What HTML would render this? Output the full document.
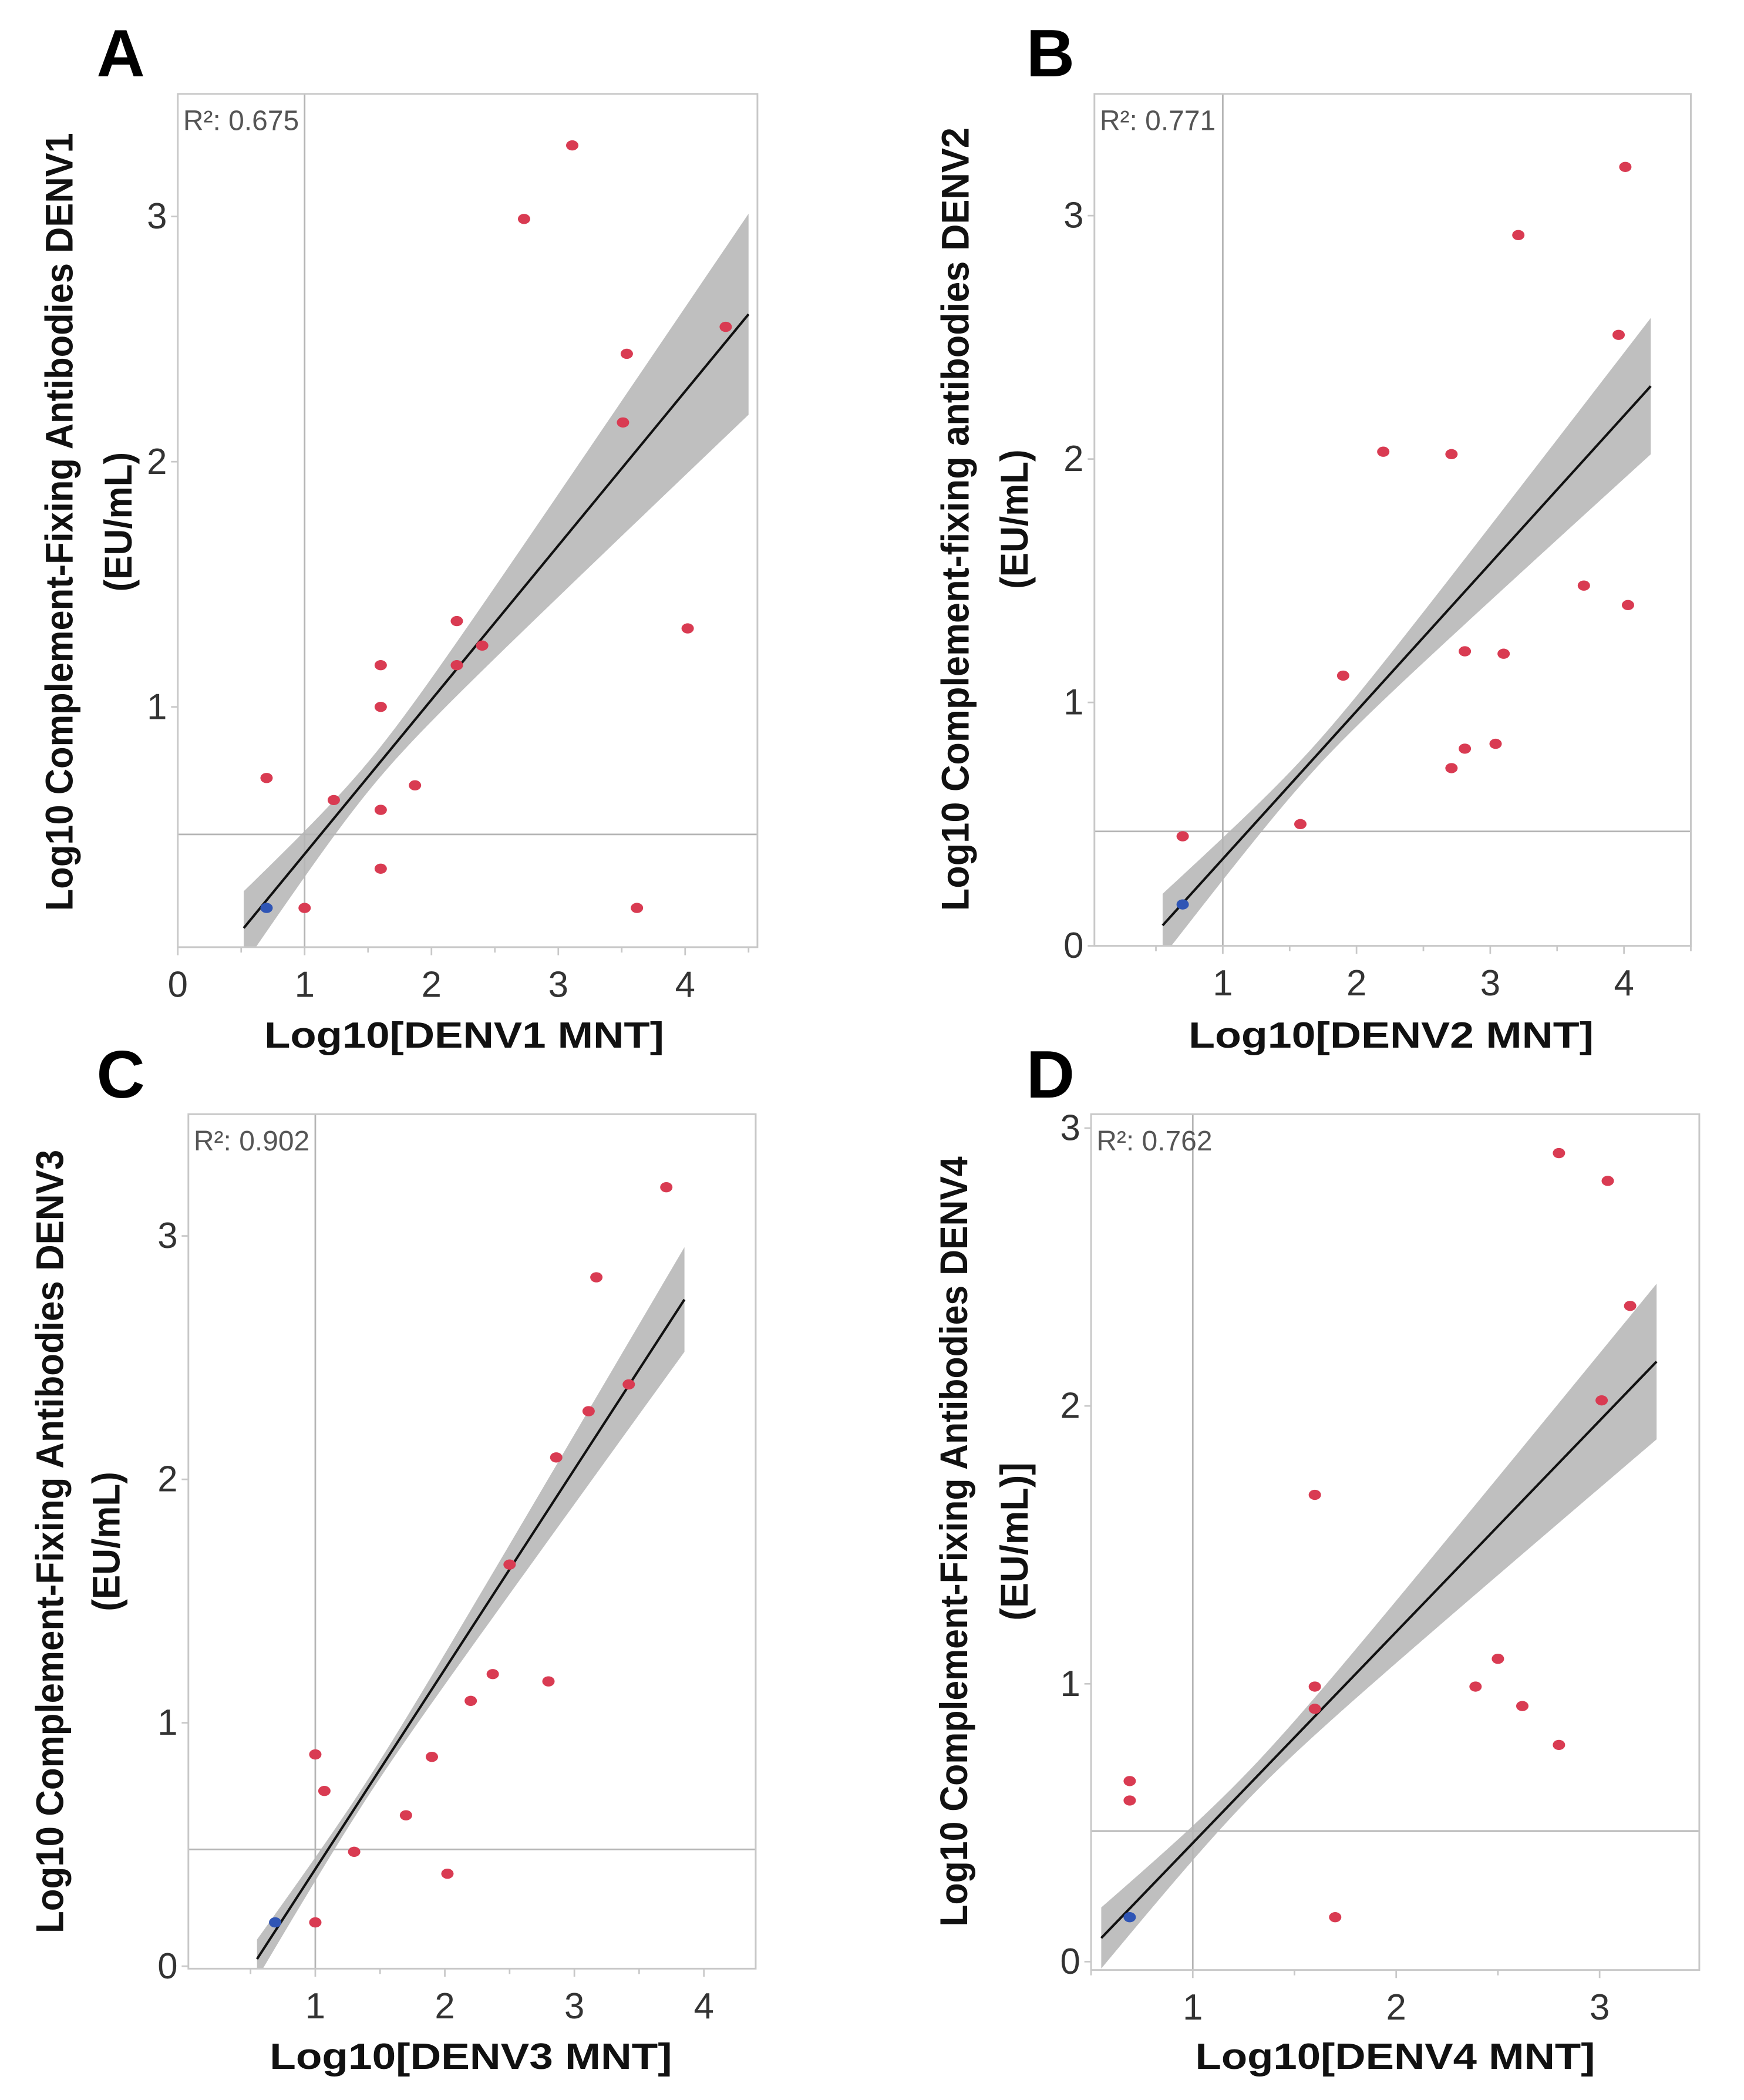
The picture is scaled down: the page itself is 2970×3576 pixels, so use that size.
<!DOCTYPE html>
<html><head><meta charset="utf-8"><style>
html,body{margin:0;padding:0;background:#fff;}
svg{display:block;}
</style></head><body>
<svg id="fig" xmlns="http://www.w3.org/2000/svg" width="2970" height="3576" viewBox="0 0 1300 1565.3" font-family="'Liberation Sans', sans-serif">
<rect width="1300" height="1565.3" fill="#fff"/>
</svg>
<script>
// ---- data (top level) ----
const panelLetters = ["A","B","C","D"];
const r2Labels = ["R²: 0.675","R²: 0.771","R²: 0.902","R²: 0.762"];
const xTitles = ["Log10[DENV1 MNT]","Log10[DENV2 MNT]","Log10[DENV3 MNT]","Log10[DENV4 MNT]"];
const yTitles = ["Log10 Complement-Fixing Antibodies DENV1","Log10 Complement-fixing antibodies DENV2","Log10 Complement-Fixing Antibodies DENV3","Log10 Complement-Fixing Antibodies DENV4"];
const yUnits = ["(EU/mL)","(EU/mL)","(EU/mL)","(EU/mL)]"];
const xTickLabelsA = [0,1,2,3,4];
const xTickLabelsB = [1,2,3,4];
const xTickLabelsC = [1,2,3,4];
const xTickLabelsD = [1,2,3];
const yTickLabelsA = [1,2,3];
const yTickLabelsB = [0,1,2,3];
const yTickLabelsC = [0,1,2,3];
const yTickLabelsD = [0,1,2,3];
const xA = [3.11,2.73,4.32,3.54,3.51,2.20,2.40,2.20,1.60,1.60,4.02,0.70,1.87,1.23,1.60,1.60,1.00,3.62];
const yA = [3.29,2.99,2.55,2.44,2.16,1.35,1.25,1.17,1.17,1.00,1.32,0.71,0.68,0.62,0.58,0.34,0.18,0.18];
const xB = [4.01,3.21,3.96,2.20,2.71,3.70,4.03,2.81,3.10,1.90,2.81,3.04,2.71,1.58,0.70];
const yB = [3.20,2.92,2.51,2.03,2.02,1.48,1.40,1.21,1.20,1.11,0.81,0.83,0.73,0.50,0.45];
const xC = [3.71,3.17,3.42,3.11,2.86,2.50,2.37,2.80,2.20,1.00,1.90,1.07,1.70,1.30,2.02,1.00];
const yC = [3.20,2.83,2.39,2.28,2.09,1.65,1.20,1.17,1.09,0.87,0.86,0.72,0.62,0.47,0.38,0.18];
const xD = [2.80,3.04,3.15,3.01,1.60,2.50,1.60,2.39,2.62,1.60,2.80,0.69,0.69,1.70];
const yD = [2.91,2.81,2.36,2.02,1.68,1.09,0.99,0.99,0.92,0.91,0.78,0.65,0.58,0.16];
const blueX = [0.70,0.70,0.69,0.69];
const blueY = [0.18,0.17,0.18,0.16];
const fitIntercept = [-0.229,-0.250,-0.422,-0.333];
const fitSlope = [0.629,0.607,0.821,0.760];
const fitStart = [0.52,0.55,0.55,0.55];
const fitEnd = [4.50,4.20,3.85,3.28];
const bandHalfLeft = [0.15,0.13,0.08,0.11];
const bandHalfRight = [0.41,0.28,0.215,0.28];
const bandHalfMin = [0.06,0.05,0.035,0.05];
const refX = [1,1,1,1];
const refY = [0.48,0.47,0.48,0.47];

// ---- layout (pixels, not data) ----
const layout = [
 {fx0:132.5,fx1:564.6,fy0:70,fy1:706, xmin:0, xmax:4.57, ymin:0.02, ymax:3.5, px:90,py:57, ytx:44,ytx2:88,ytc:389,ytl:580, xtc:346,xtb:781,xtl:298},
 {fx0:815.8,fx1:1260.4,fy0:70,fy1:705, xmin:0.04, xmax:4.5, ymin:0, ymax:3.5, px:783,py:57, ytx:712,ytx2:756,ytc:387,ytl:584, xtc:1037,xtb:781,xtl:302},
 {fx0:140.4,fx1:563.3,fy0:830.5,fy1:1467.4, xmin:0.02, xmax:4.4, ymin:-0.01, ymax:3.5, px:90,py:818, ytx:37,ytx2:79,ytc:1149,ytl:584, xtc:351,xtb:1542,xtl:300},
 {fx0:813.3,fx1:1266.7,fy0:830.5,fy1:1468.4, xmin:0.5, xmax:3.49, ymin:-0.03, ymax:3.05, px:783,py:818, ytx:711,ytx2:756,ytc:1149,ytl:574, xtc:1040,xtb:1542,xtl:298}
];
const allX=[xA,xB,xC,xD], allY=[yA,yB,yC,yD];
const allXT=[xTickLabelsA,xTickLabelsB,xTickLabelsC,xTickLabelsD];
const allYT=[yTickLabelsA,yTickLabelsB,yTickLabelsC,yTickLabelsD];
const NS="http://www.w3.org/2000/svg";
const svg=document.getElementById('fig');
function mk(tag,attrs,parent){const e=document.createElementNS(NS,tag);for(const k in attrs)e.setAttribute(k,attrs[k]);(parent||svg).appendChild(e);return e;}

for(let p=0;p<4;p++){
  const L=layout[p];
  const sx=v=>L.fx0+(v-L.xmin)/(L.xmax-L.xmin)*(L.fx1-L.fx0);
  const sy=v=>L.fy1-(v-L.ymin)/(L.ymax-L.ymin)*(L.fy1-L.fy0);
  const g=mk('g',{});
  
  
  const cp=mk('clipPath',{id:'clip'+p},g);
  mk('rect',{x:L.fx0,y:L.fy0,width:L.fx1-L.fx0,height:L.fy1-L.fy0},cp);
  const x0=fitStart[p],x1=fitEnd[p],hL=bandHalfLeft[p],hR=bandHalfRight[p],h0=bandHalfMin[p];
  const r=Math.sqrt((hL*hL-h0*h0)/(hR*hR-h0*h0));
  const dR=(x1-x0)/(1+r), xm=x1-dR, k=(hR*hR-h0*h0)/(dR*dR);
  const up=[],lo=[];
  for(let i=0;i<=60;i++){const x=x0+(x1-x0)*i/60;const y=fitIntercept[p]+fitSlope[p]*x;const h=Math.sqrt(h0*h0+k*(x-xm)*(x-xm));
    up.push(sx(x).toFixed(2)+','+sy(y+h).toFixed(2));lo.unshift(sx(x).toFixed(2)+','+sy(y-h).toFixed(2));}
  const band=mk('polygon',{points:up.concat(lo).join(' '),fill:'#bfbfbf','clip-path':'url(#clip'+p+')'},g);
  
  
  const vl=mk('line',{x1:sx(refX[p]),x2:sx(refX[p]),y1:L.fy0,y2:L.fy1,stroke:'#b5b5b5','stroke-width':1.2},g);
  
  
  const hl=mk('line',{x1:L.fx0,x2:L.fx1,y1:sy(refY[p]),y2:sy(refY[p]),stroke:'#b5b5b5','stroke-width':1.2},g);
  
  
  const fl=mk('line',{x1:sx(x0),y1:sy(fitIntercept[p]+fitSlope[p]*x0),x2:sx(x1),y2:sy(fitIntercept[p]+fitSlope[p]*x1),stroke:'#111','stroke-width':1.8,'clip-path':'url(#clip'+p+')'},g);
  
  
  const fr=mk('rect',{x:L.fx0,y:L.fy0,width:L.fx1-L.fx0,height:L.fy1-L.fy0,fill:'none',stroke:'#c8c8c8','stroke-width':1.3},g);
  
  
  const X=allX[p],Y=allY[p];
  for(let i=0;i<X.length;i++){
    const d=mk('ellipse',{cx:sx(X[i]),cy:sy(Y[i]),rx:4.6,ry:3.8,fill:'#d93b52'},g);
    
    
  }
  const b=mk('ellipse',{cx:sx(blueX[p]),cy:sy(blueY[p]),rx:4.6,ry:3.8,fill:'#2f55b5'},g);
  
  
  for(let t=Math.ceil(L.xmin*2)/2;t<=L.xmax+1e-9;t+=0.5){
    mk('line',{x1:sx(t),x2:sx(t),y1:L.fy1,y2:L.fy1+(Number.isInteger(t)?6:4),stroke:'#c8c8c8','stroke-width':1.2},g);
  }
  allXT[p].forEach(v=>{
    const t=mk('text',{x:sx(v),y:L.fy1+37,'font-size':27,'text-anchor':'middle',fill:'#333'},g);
    t.textContent=v;
    
    
  });
  allYT[p].forEach(v=>{
    mk('line',{x1:L.fx0-5,x2:L.fx0,y1:sy(v),y2:sy(v),stroke:'#c8c8c8','stroke-width':1.2},g);
    const t=mk('text',{x:L.fx0-8,y:sy(v)+9,'font-size':27,'text-anchor':'end',fill:'#333'},g);
    t.textContent=v;
    
    
  });
  const rt=mk('text',{x:L.fx0+4,y:L.fy0+27,'font-size':21,fill:'#555'},g);
  rt.textContent=r2Labels[p];
  
  
  const pl=mk('text',{x:L.px,y:L.py,'font-size':50,'font-weight':'bold','text-anchor':'middle',fill:'#000'},g);
  pl.textContent=panelLetters[p];
  
  
  const xt=mk('text',{x:L.xtc,y:L.xtb,'font-size':27,'font-weight':'bold','text-anchor':'middle',textLength:L.xtl,lengthAdjust:'spacingAndGlyphs',fill:'#111'},g);
  xt.textContent=xTitles[p];
  
  
  const yt=mk('text',{x:0,y:0,'font-size':29,'font-weight':'bold','text-anchor':'middle',textLength:L.ytl,lengthAdjust:'spacingAndGlyphs',fill:'#111',transform:'translate('+(L.ytx+10)+','+L.ytc+') rotate(-90)'},g);
  yt.textContent=yTitles[p];
  
  
  const yt2=mk('text',{x:0,y:0,'font-size':29,'font-weight':'bold','text-anchor':'middle',textLength:(yUnits[p].length>7?118:104),lengthAdjust:'spacingAndGlyphs',fill:'#111',transform:'translate('+(L.ytx2+10)+','+L.ytc+') rotate(-90)'},g);
  yt2.textContent=yUnits[p];
  
  
}
</script>
</body></html>
